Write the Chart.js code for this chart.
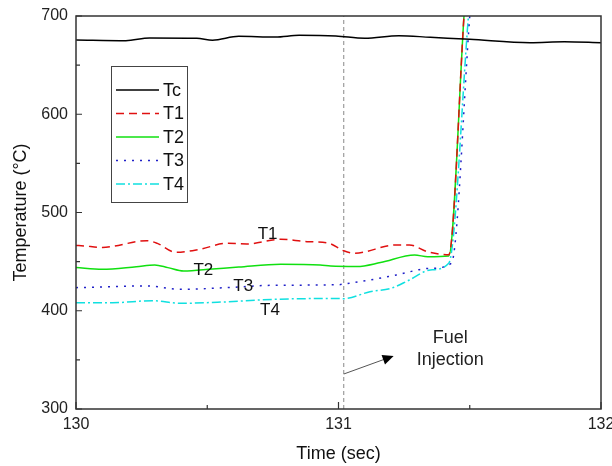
<!DOCTYPE html>
<html>
<head>
<meta charset="utf-8">
<script src="https://cdn.jsdelivr.net/npm/chart.js@4.4.0/dist/chart.umd.min.js"></script>
<style>
  html, body { margin: 0; padding: 0; background: #fff; }
</style>
</head>
<body>
<canvas id="chart" width="612" height="466"></canvas>
<script>
// values
const tcTime = [130.0, 130.19, 130.28, 130.46, 130.52, 130.62, 130.76, 130.85, 130.99, 131.1, 131.23, 131.35, 131.5, 131.73, 131.86, 132.0];
const tcTemp = [675.6, 674.9, 677.6, 677.3, 675.3, 679.3, 678.6, 680.3, 679.6, 677.3, 680.0, 678.3, 676.3, 672.8, 673.8, 672.8];

const t1Time = [130.0, 130.03, 130.1, 130.27, 130.31, 130.38, 130.47, 130.575, 130.65, 130.78, 130.88, 130.96, 131.02, 131.06, 131.22, 131.27, 131.34, 131.42, 131.478];
const t1Temp = [466.5, 466, 464.5, 471.3, 468.6, 459.5, 462.5, 468.6, 468, 472.8, 470.3, 469, 461, 458.5, 467, 467, 460, 457, 700];

const t2Time = [130.0, 130.1, 130.23, 130.3, 130.35, 130.41, 130.52, 130.62, 130.78, 130.93, 130.97, 131.07, 131.16, 131.29, 131.34, 131.42, 131.478];
const t2Temp = [444, 442.2, 444.9, 446.6, 443.9, 440.4, 442.5, 444.5, 447.3, 446.6, 445.5, 445, 449, 456.7, 455, 455.7, 700];

const t3Time = [130.0, 130.27, 130.4, 130.57, 130.75, 131.0, 131.02, 131.12, 131.22, 131.35, 131.43, 131.5];
const t3Temp = [423.5, 425.2, 421.8, 423.5, 425.9, 426.5, 427.2, 431.3, 436.4, 443.2, 448.3, 700];

const t4Time = [130.0, 130.14, 130.29, 130.4, 130.56, 130.75, 131.0, 131.02, 131.12, 131.2, 131.27, 131.35, 131.42, 131.495];
const t4Temp = [408.2, 408.2, 410.2, 407.6, 408.9, 411.6, 412.5, 412.3, 419.4, 422.8, 431.3, 441.5, 448.3, 700];

const injectionTime = 131.02;

const xTicks = [130, 130.5, 131, 131.5, 132];
const yTicks = [300, 350, 400, 450, 500, 550, 600, 650, 700];

const curveLabels = [
  { text: "T1", x: 130.73, y: 478 },
  { text: "T2", x: 130.485, y: 441.5 },
  { text: "T3", x: 130.637, y: 424.5 },
  { text: "T4", x: 130.739, y: 400.8 },
];

const arrowFrom = { x: 131.02, y: 335.6 };
const arrowTo = { x: 131.21, y: 354 };
const noteLines = [
  { text: "Fuel", x: 131.426, y: 372.3 },
  { text: "Injection", x: 131.426, y: 349.9 },
];

const FONT = "'Liberation Sans', Arial, sans-serif";

function toPoints(xs, ys) {
  return xs.map((x, i) => ({ x: x, y: ys[i] }));
}

function series(label, xs, ys, color, dash) {
  return {
    label: label,
    data: toPoints(xs, ys),
    borderColor: color,
    borderWidth: 1.5,
    borderDash: dash,
    pointRadius: 0,
    fill: false,
    cubicInterpolationMode: "monotone",
  };
}

const datasets = [
  series("Tc", tcTime, tcTemp, "#000000", []),
  series("T1", t1Time, t1Temp, "#e01010", [8, 5]),
  series("T2", t2Time, t2Temp, "#10e010", []),
  series("T3", t3Time, t3Temp, "#2020c8", [2, 6]),
  series("T4", t4Time, t4Temp, "#10e0e0", [9, 3, 2, 3]),
  {
    label: "injection",
    data: [{ x: injectionTime, y: 300 }, { x: injectionTime, y: 700 }],
    borderColor: "#888888",
    borderWidth: 1,
    borderDash: [4, 3],
    pointRadius: 0,
  },
];

// frame, inward ticks, legend box and notes
const decorations = {
  id: "decorations",
  afterDraw(chart) {
    const ctx = chart.ctx;
    const area = chart.chartArea;
    const xs = chart.scales.x;
    const ys = chart.scales.y;
    ctx.save();

    ctx.strokeStyle = "#333";
    ctx.lineWidth = 1.5;
    ctx.strokeRect(area.left, area.top, area.right - area.left, area.bottom - area.top);

    ctx.lineWidth = 1.2;
    ctx.beginPath();
    xTicks.forEach((v) => {
      const px = xs.getPixelForValue(v);
      const len = Number.isInteger(v) ? 7 : 4;
      ctx.moveTo(px, area.bottom);
      ctx.lineTo(px, area.bottom - len);
    });
    yTicks.forEach((v) => {
      const py = ys.getPixelForValue(v);
      const len = v % 100 === 0 ? 6 : 4;
      ctx.moveTo(area.left, py);
      ctx.lineTo(area.left + len, py);
    });
    ctx.stroke();

    // legend
    ctx.strokeStyle = "#444";
    ctx.lineWidth = 1;
    ctx.strokeRect(111.5, 66.5, 76, 136);
    ctx.font = "18px " + FONT;
    ctx.textBaseline = "middle";
    ctx.textAlign = "left";
    chart.data.datasets.slice(0, 5).forEach((ds, i) => {
      const y = 90 + i * 23.5;
      ctx.strokeStyle = ds.borderColor;
      ctx.lineWidth = 1.5;
      ctx.setLineDash(ds.borderDash);
      ctx.beginPath();
      ctx.moveTo(116, y);
      ctx.lineTo(159, y);
      ctx.stroke();
      ctx.setLineDash([]);
      ctx.fillStyle = "#111";
      ctx.fillText(ds.label, 163, y + 1);
    });

    // curve labels
    ctx.font = "17px " + FONT;
    ctx.textAlign = "center";
    curveLabels.forEach((l) => {
      ctx.fillText(l.text, xs.getPixelForValue(l.x), ys.getPixelForValue(l.y));
    });

    // arrow to the note
    const x0 = xs.getPixelForValue(arrowFrom.x), y0 = ys.getPixelForValue(arrowFrom.y);
    const x1 = xs.getPixelForValue(arrowTo.x), y1 = ys.getPixelForValue(arrowTo.y);
    const ang = Math.atan2(y1 - y0, x1 - x0);
    ctx.strokeStyle = "#555";
    ctx.lineWidth = 1;
    ctx.beginPath();
    ctx.moveTo(x0, y0);
    ctx.lineTo(x1 - 9 * Math.cos(ang), y1 - 9 * Math.sin(ang));
    ctx.stroke();
    ctx.fillStyle = "#000";
    ctx.beginPath();
    ctx.moveTo(x1, y1);
    ctx.lineTo(x1 - 11 * Math.cos(ang) + 5 * Math.sin(ang), y1 - 11 * Math.sin(ang) - 5 * Math.cos(ang));
    ctx.lineTo(x1 - 11 * Math.cos(ang) - 5 * Math.sin(ang), y1 - 11 * Math.sin(ang) + 5 * Math.cos(ang));
    ctx.closePath();
    ctx.fill();

    ctx.fillStyle = "#222";
    ctx.font = "18px " + FONT;
    noteLines.forEach((l) => {
      ctx.fillText(l.text, xs.getPixelForValue(l.x), ys.getPixelForValue(l.y));
    });

    ctx.restore();
  },
};

new Chart(document.getElementById("chart"), {
  type: "line",
  data: { datasets: datasets },
  plugins: [decorations],
  options: {
    responsive: false,
    animation: false,
    devicePixelRatio: 1,
    layout: { padding: { top: 16, right: 11, left: 0, bottom: 0 } },
    plugins: {
      legend: { display: false },
      tooltip: { enabled: false },
    },
    scales: {
      x: {
        type: "linear",
        min: 130,
        max: 132,
        afterFit: (s) => {
          s.height = 57;
          s.paddingLeft = 0;
          s.paddingRight = 0;
        },
        afterBuildTicks: (s) => { s.ticks = xTicks.map((v) => ({ value: v })); },
        grid: { drawOnChartArea: false, drawTicks: false },
        border: { display: false },
        ticks: {
          autoSkip: false,
          maxRotation: 0,
          padding: 6,
          color: "#222",
          font: { family: FONT, size: 16 },
          callback: (v) => (Number.isInteger(v) ? v : ""),
        },
        title: {
          display: true,
          text: "Time (sec)",
          color: "#111",
          font: { family: FONT, size: 18 },
          padding: { top: 0, bottom: 1 },
        },
      },
      y: {
        min: 300,
        max: 700,
        afterFit: (s) => {
          s.width = 76;
          s.paddingTop = 0;
          s.paddingBottom = 0;
        },
        afterBuildTicks: (s) => { s.ticks = yTicks.map((v) => ({ value: v })); },
        grid: { drawOnChartArea: false, drawTicks: false },
        border: { display: false },
        ticks: {
          autoSkip: false,
          padding: 8,
          color: "#222",
          font: { family: FONT, size: 16 },
          callback: (v) => (v % 100 === 0 ? v : ""),
        },
        title: {
          display: true,
          text: "Temperature (°C)",
          color: "#111",
          font: { family: FONT, size: 18 },
          padding: { top: 10, bottom: 0 },
        },
      },
    },
  },
});
</script>
</body>
</html>
